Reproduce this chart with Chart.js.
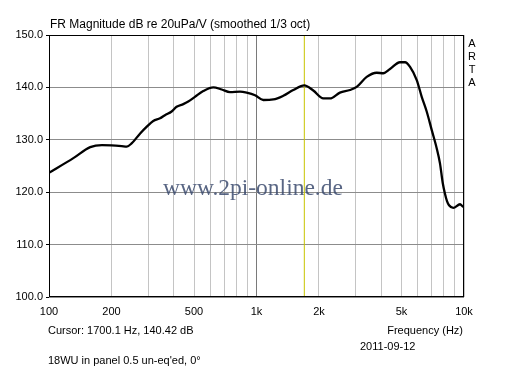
<!DOCTYPE html>
<html>
<head>
<meta charset="utf-8">
<script src="https://cdn.jsdelivr.net/npm/chart.js@4"></script>
<style>
  body { margin: 0; background: #fff; }
  canvas { display: block; }
</style>
</head>
<body>
<canvas id="grafico" width="512" height="372"></canvas>
<script>
// frequency response (Hz / dB)
const frequencias = [100, 131, 158, 180, 200, 224, 237, 250, 275, 296, 318, 343, 362, 390, 412, 444, 469, 505, 554, 619,
    680, 745, 833, 897, 984, 1078, 1206, 1346, 1504, 1700, 1878, 2098, 2260, 2524, 2822, 3040, 3397, 3796, 4086, 4399,
    4915, 5200, 5495, 5919, 6256, 6610, 6987, 7385, 7660, 7895, 8096, 8280, 8469, 8880, 9570, 9930, 10000];
const magnitudes = [123.7, 126.5, 128.6, 129.0, 128.95, 128.8, 128.7, 129.3, 131.2, 132.5, 133.6, 134.1, 134.7, 135.4, 136.3, 136.8, 137.3, 138.2, 139.3, 140.0,
    139.6, 139.1, 139.2, 139.0, 138.5, 137.6, 137.7, 138.4, 139.5, 140.4, 139.4, 137.9, 137.9, 139.0, 139.5, 140.1, 142.0, 142.8, 142.7, 143.5,
    144.8, 144.8, 143.9, 141.4, 138.2, 135.4, 131.9, 128.4, 125.5, 121.8, 119.7, 118.3, 117.5, 117.0, 117.7, 117.2, 117.3];

const grade_freq = [100, 200, 300, 400, 500, 600, 700, 800, 900, 1000, 2000, 3000, 4000, 5000, 6000, 7000, 8000, 9000, 10000];
const rotulos_freq = {100: "100", 200: "200", 500: "500", 1000: "1k", 2000: "2k", 5000: "5k", 10000: "10k"};
const cursor_freq = 1700;

const titulo = "FR Magnitude dB re 20uPa/V (smoothed 1/3 oct)";
const texto_cursor = "Cursor: 1700.1 Hz, 140.42 dB";
const texto_eixo_x = "Frequency (Hz)";
const data_medicao = "2011-09-12";
const observacao = "18WU in panel 0.5 un-eq'ed, 0°";
const marca = "www.2pi-online.de";
const lateral = ["A", "R", "T", "A"];

const fonte = "11px 'Liberation Sans', Arial, sans-serif";

const textos = {
    id: "textos",
    beforeDatasetsDraw(chart) {
        const c = chart.ctx;
        c.save();
        c.font = "23.5px 'Liberation Serif', 'Times New Roman', serif";
        c.fillStyle = "rgba(60, 75, 110, 0.85)";
        c.textBaseline = "alphabetic";
        c.fillText(marca, 163, 195);
        c.restore();
    },
    afterDraw(chart) {
        const c = chart.ctx;
        const a = chart.chartArea;
        c.save();
        c.strokeStyle = "#000";
        c.lineWidth = 1;
        c.strokeRect(Math.round(a.left) + 0.5, Math.round(a.top) + 0.5, Math.round(a.right - a.left) - 1, Math.round(a.bottom - a.top) - 1);

        c.fillStyle = "#000";
        c.font = "12px 'Liberation Sans', Arial, sans-serif";
        c.textBaseline = "middle";
        c.textAlign = "left";
        c.fillText(titulo, 50, 25);
        c.font = fonte;
        c.fillText(texto_cursor, 48, 331);
        c.fillText(data_medicao, 360, 347);
        c.fillText(observacao, 48, 361);
        c.textAlign = "right";
        c.fillText(texto_eixo_x, 463, 331);
        c.textAlign = "center";
        lateral.forEach((l, i) => c.fillText(l, 472, 44 + i * 13));
        c.restore();
    }
};

new Chart(document.getElementById("grafico"), {
    type: "line",
    data: {
        datasets: [{
            data: frequencias.map((f, i) => ({x: f, y: magnitudes[i]})),
            borderColor: "#000",
            borderWidth: 2.3,
            pointRadius: 0,
            cubicInterpolationMode: "monotone",
            order: 1
        }, {
            data: [{x: cursor_freq, y: 100}, {x: cursor_freq, y: 150}],
            borderColor: "#c8c400",
            borderWidth: 1,
            pointRadius: 0,
            order: 2
        }]
    },
    plugins: [textos],
    options: {
        responsive: false,
        devicePixelRatio: 1,
        animation: false,
        layout: {padding: {left: 0, top: 35, right: 48, bottom: 0}},
        plugins: {legend: {display: false}, tooltip: {enabled: false}},
        scales: {
            x: {
                type: "logarithmic",
                min: 100,
                max: 10000,
                afterBuildTicks: s => { s.ticks = grade_freq.map(v => ({value: v})); },
                afterFit: s => { s.height = 75; },
                ticks: {
                    autoSkip: false,
                    maxRotation: 0,
                    padding: 8,
                    color: "#000",
                    font: {family: "'Liberation Sans', Arial, sans-serif", size: 11},
                    callback: v => rotulos_freq[v] || ""
                },
                grid: {
                    drawTicks: false,
                    color: ctx => (ctx.tick && ctx.tick.value === 1000) ? "#7a7a7a" : "#c4c4c4"
                },
                border: {display: false}
            },
            y: {
                min: 100,
                max: 150,
                afterFit: s => { s.width = 49; },
                ticks: {
                    stepSize: 10,
                    padding: 3,
                    color: "#000",
                    font: {family: "'Liberation Sans', Arial, sans-serif", size: 11},
                    callback: v => v.toFixed(1)
                },
                grid: {color: "#8c8c8c", tickLength: 3, tickColor: "#000"},
                border: {display: false}
            }
        }
    }
});
</script>
</body>
</html>
